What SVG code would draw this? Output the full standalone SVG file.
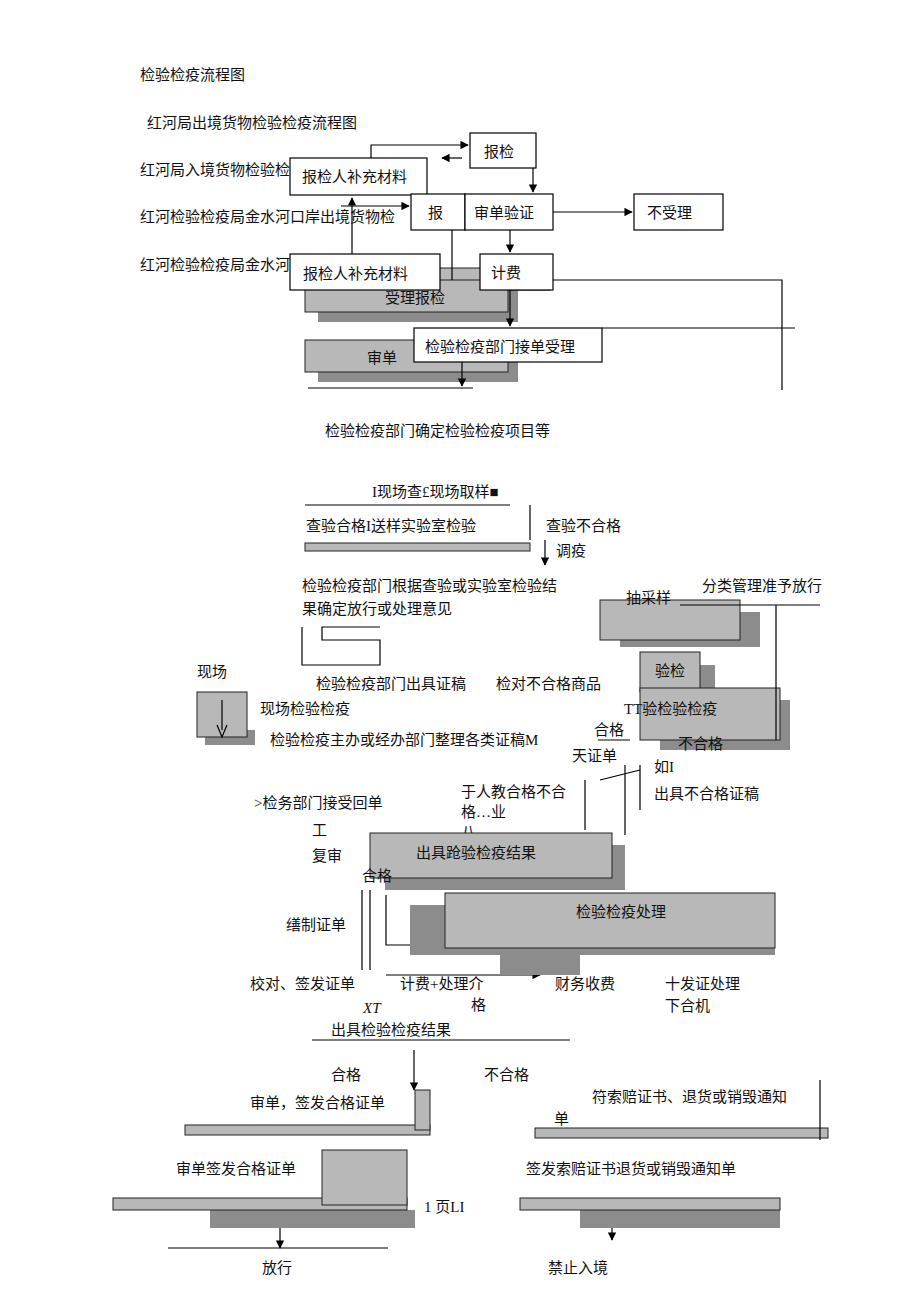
<svg xmlns="http://www.w3.org/2000/svg" width="920" height="1301" viewBox="0 0 920 1301">
<defs>
<marker id="ah" viewBox="0 0 10 10" refX="9" refY="5" markerWidth="7" markerHeight="7" orient="auto"><path d="M0,0 L10,5 L0,10 z" fill="#000"/></marker>
</defs>
<style>
text{font-family:"Liberation Serif","Noto Sans CJK SC",serif;font-size:15px;fill:#111}
.b{fill:#fff;stroke:#000;stroke-width:1.2}
.g{fill:#b8b8b8;stroke:#222;stroke-width:1}
.s{fill:#8c8c8c}
.l{fill:none;stroke:#000;stroke-width:1.2}
</style>
<rect width="920" height="1301" fill="#fff"/>
<g id="titles">
<text x="140" y="80">检验检疫流程图</text>
<text x="147" y="128">红河局出境货物检验检疫流程图</text>
<text x="140" y="175">红河局入境货物检验检</text>
<text x="140" y="222">红河检验检疫局金水河口岸出境货物检</text>
<text x="140" y="270">红河检验检疫局金水河</text>
</g>
<g id="bg-shapes">
<rect class="s" x="318" y="290" width="200" height="32"/>
<rect class="g" x="420" y="268" width="130" height="22"/>
<rect class="g" x="305" y="280" width="203" height="32"/>
<rect class="s" x="318" y="350" width="200" height="32"/>
<rect class="g" x="305" y="340" width="203" height="32"/>
</g>
<g id="n-baojian"><rect class="b" x="470" y="133" width="66" height="35"/><text x="484" y="157">报检</text></g>
<g id="n-bc1"><rect class="b" x="290" y="158" width="137" height="37"/><text x="302" y="182">报检人补充材料</text></g>
<g id="n-bao"><rect class="b" x="411" y="194" width="54" height="36"/><text x="428" y="218">报</text></g>
<g id="n-sdyz"><rect class="b" x="465" y="194" width="88" height="36"/><text x="474" y="218">审单验证</text></g>
<g id="n-bsl"><rect class="b" x="634" y="194" width="89" height="36"/><text x="647" y="218">不受理</text></g>
<g id="n-bc2"><rect class="b" x="290" y="254" width="150" height="36"/><text x="303" y="279">报检人补充材料</text></g>
<g id="n-jf"><rect class="b" x="480" y="254" width="73" height="36"/><text x="491" y="278">计费</text></g>
<g id="n-slbj"><text x="385" y="303">受理报检</text></g>
<g id="n-sd"><text x="367" y="363">审单</text></g>
<g id="n-jdsl"><rect class="b" x="414" y="328" width="188" height="34"/><text x="425" y="352">检验检疫部门接单受理</text></g>
<g id="connectors">
<path class="l" d="M371,158 V145 H468" marker-end="url(#ah)"/>
<path class="l" d="M462,158 H442" marker-end="url(#ah)"/>
<path class="l" d="M533,168 V192" marker-end="url(#ah)"/>
<path class="l" d="M553,212 H632" marker-end="url(#ah)"/>
<path class="l" d="M510,230 V252" marker-end="url(#ah)"/>
<path class="l" d="M510,290 V326" marker-end="url(#ah)"/>
<path class="l" d="M352,254 V198" marker-end="url(#ah)"/>
<path class="l" d="M341,206 H409" marker-end="url(#ah)"/>
<path class="l" d="M452,230 V280"/>
<path class="l" d="M553,280 H782 V390"/>
<path class="l" d="M602,328 H795"/>
<path class="l" d="M308,388 H473"/>
<path class="l" d="M462,362 V386" marker-end="url(#ah)"/>
<path class="l" d="M305,505 H510"/>
<path class="l" d="M530,505 V540 M545,540 V565" marker-end="url(#ah)"/>
<path class="l" d="M414,1050 V1090" marker-end="url(#ah)"/>
<path class="l" d="M312,1040 H570"/>
<path class="l" d="M168,1248 H388"/>
<path class="l" d="M280,1210 V1248" marker-end="url(#ah)"/>
<path class="l" d="M612,1210 V1240" marker-end="url(#ah)"/>
<path class="l" d="M386,975 H540" marker-end="url(#ah)"/>
<path class="l" d="M362,890 V970 M370,890 V970"/>
<path class="l" d="M386,895 V945 H445"/>
<path class="l" d="M598,740 H630 M600,780 L640,770 M640,765 V810"/>
<path class="l" d="M585,830 V780 M625,835 V765"/>
</g>
<g id="mid">
<text x="325" y="436">检验检疫部门确定检验检疫项目等</text>
<text x="372" y="497">I现场查£现场取样■</text>
<text x="306" y="531">查验合格I送样实验室检验</text>
<text x="546" y="531">查验不合格</text>
<rect class="g" x="305" y="543" width="225" height="8"/>
<text x="556" y="556">调疫</text>
<text x="302" y="591">检验检疫部门根据查验或实验室检验结</text>
<text x="302" y="614">果确定放行或处理意见</text>
<path class="l" d="M302,627 V665 H380 V640 H322 V627 H380"/>
<text x="197" y="677">现场</text>
<text x="316" y="689">检验检疫部门出具证稿</text>
<text x="496" y="689">检对不合格商品</text>
<rect class="s" x="205" y="730" width="50" height="15"/>
<rect class="g" x="197" y="692" width="50" height="45"/>
<path d="M222,700 V730 M217,725 L222,737 L227,725" class="l"/>
<text x="260" y="714">现场检验检疫</text>
<text x="270" y="745">检验检疫主办或经办部门整理各类证稿M</text>
</g>
<g id="right">
<rect class="s" x="620" y="612" width="140" height="35"/>
<rect class="g" x="600" y="600" width="140" height="40"/>
<rect class="s" x="660" y="665" width="55" height="35"/>
<rect class="g" x="640" y="652" width="60" height="40"/>
<rect class="s" x="660" y="700" width="130" height="50"/>
<rect class="g" x="640" y="688" width="140" height="52"/>
<path class="l" d="M680,605 H820 M776,605 V740"/>
<text x="702" y="591">分类管理准予放行</text>
<text x="626" y="603">抽采样</text>
<text x="655" y="676">验检</text>
<text x="624" y="714">TT验检验检疫</text>
<text x="594" y="735">合格</text>
<text x="678" y="749">不合格</text>
<text x="572" y="761">天证单</text>
<text x="654" y="772">如I</text>
<text x="654" y="799">出具不合格证稿</text>
</g>
<g id="lower">
<text x="461" y="797">于人教合格不合</text>
<text x="461" y="817">格…业</text>
<text x="254" y="808">&gt;检务部门接受回单</text>
<text x="312" y="835">工</text>
<text x="461" y="837">八</text>
<text x="312" y="861">复审</text>
<rect class="s" x="385" y="845" width="240" height="45"/>
<rect class="g" x="370" y="833" width="242" height="45"/>
<text x="416" y="858">出具跄验检疫结果</text>
<text x="362" y="881">合格</text>
<rect class="s" x="410" y="905" width="365" height="50"/>
<rect class="s" x="500" y="950" width="80" height="25"/>
<rect class="g" x="445" y="893" width="330" height="55"/>
<text x="576" y="917">检验检疫处理</text>
<text x="286" y="930">缮制证单</text>
<text x="250" y="989">校对、签发证单</text>
<text x="400" y="989">计费+处理介</text>
<text x="471" y="1010">格</text>
<text x="555" y="989">财务收费</text>
<text x="665" y="989">十发证处理</text>
<text x="665" y="1011">下合机</text>
<text x="363" y="1013" font-style="italic" font-size="17">XT</text>
<text x="331" y="1035">出具检验检疫结果</text>
<text x="331" y="1080">合格</text>
<text x="484" y="1080">不合格</text>
<rect class="g" x="185" y="1125" width="245" height="10" stroke="none"/>
<rect class="g" x="415" y="1090" width="15" height="40" stroke="none"/>
<text x="250" y="1108">审单，签发合格证单</text>
<rect class="g" x="535" y="1128" width="293" height="10" stroke="none"/>
<path class="l" d="M820,1080 V1140"/>
<text x="592" y="1102">符索赔证书、退货或销毁通知</text>
<text x="554" y="1124">单</text>
<rect class="s" x="210" y="1210" width="205" height="18"/>
<rect class="g" x="113" y="1198" width="294" height="12" stroke="none"/>
<rect class="g" x="322" y="1150" width="85" height="55" stroke="none"/>
<text x="176" y="1174">审单签发合格证单</text>
<rect class="s" x="580" y="1210" width="200" height="18"/>
<rect class="g" x="520" y="1198" width="260" height="12" stroke="none"/>
<text x="526" y="1174">签发索赔证书退货或销毁通知单</text>
<text x="424" y="1212">1 页LI</text>
<text x="262" y="1273">放行</text>
<text x="548" y="1273">禁止入境</text>
</g>
</svg>
